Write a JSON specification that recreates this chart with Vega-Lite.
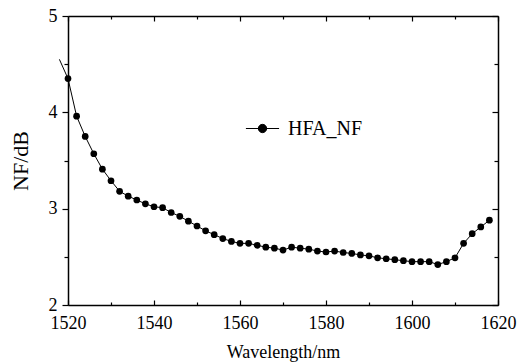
{
  "$schema": "https://vega.github.io/schema/vega-lite/v6.json",
  "width": 430,
  "height": 289,
  "autosize": "none",
  "padding": {"left": 68, "top": 16, "right": 20, "bottom": 59},
  "config": {
    "font": "Liberation Serif",
    "view": {"stroke": null},
    "axis": {
      "domainColor": "black",
      "domainWidth": 1.5,
      "tickColor": "black",
      "tickWidth": 1.2,
      "labelColor": "black",
      "titleColor": "black",
      "labelFont": "Liberation Serif",
      "titleFont": "Liberation Serif",
      "labelFontSize": 18,
      "titleFontSize": 18,
      "titleFontWeight": "normal",
      "grid": false
    }
  },
  "data": {
    "values": [
      {"wl": 1518, "nf": 4.55},
      {"wl": 1520, "nf": 4.35},
      {"wl": 1522, "nf": 3.96},
      {"wl": 1524, "nf": 3.75},
      {"wl": 1526, "nf": 3.57},
      {"wl": 1528, "nf": 3.41},
      {"wl": 1530, "nf": 3.29},
      {"wl": 1532, "nf": 3.18},
      {"wl": 1534, "nf": 3.13},
      {"wl": 1536, "nf": 3.09},
      {"wl": 1538, "nf": 3.05},
      {"wl": 1540, "nf": 3.02},
      {"wl": 1542, "nf": 3.01},
      {"wl": 1544, "nf": 2.96},
      {"wl": 1546, "nf": 2.92},
      {"wl": 1548, "nf": 2.87},
      {"wl": 1550, "nf": 2.82},
      {"wl": 1552, "nf": 2.77},
      {"wl": 1554, "nf": 2.73},
      {"wl": 1556, "nf": 2.69},
      {"wl": 1558, "nf": 2.66},
      {"wl": 1560, "nf": 2.64},
      {"wl": 1562, "nf": 2.64},
      {"wl": 1564, "nf": 2.62},
      {"wl": 1566, "nf": 2.6},
      {"wl": 1568, "nf": 2.59},
      {"wl": 1570, "nf": 2.57},
      {"wl": 1572, "nf": 2.6},
      {"wl": 1574, "nf": 2.59},
      {"wl": 1576, "nf": 2.58},
      {"wl": 1578, "nf": 2.56},
      {"wl": 1580, "nf": 2.55},
      {"wl": 1582, "nf": 2.56},
      {"wl": 1584, "nf": 2.545},
      {"wl": 1586, "nf": 2.535},
      {"wl": 1588, "nf": 2.52},
      {"wl": 1590, "nf": 2.51},
      {"wl": 1592, "nf": 2.49},
      {"wl": 1594, "nf": 2.48},
      {"wl": 1596, "nf": 2.47},
      {"wl": 1598, "nf": 2.46},
      {"wl": 1600, "nf": 2.45},
      {"wl": 1602, "nf": 2.45},
      {"wl": 1604, "nf": 2.45},
      {"wl": 1606, "nf": 2.42},
      {"wl": 1608, "nf": 2.45},
      {"wl": 1610, "nf": 2.49},
      {"wl": 1612, "nf": 2.64},
      {"wl": 1614, "nf": 2.74},
      {"wl": 1616, "nf": 2.81},
      {"wl": 1618, "nf": 2.88}
    ]
  },
  "layer": [
    {
      "mark": {"type": "line", "color": "black", "strokeWidth": 1},
      "encoding": {
        "x": {
          "field": "wl", "type": "quantitative",
          "scale": {"domain": [1520, 1620], "nice": false, "zero": false},
          "axis": {
            "orient": "bottom",
            "title": "Wavelength/nm",
            "values": [1520, 1530, 1540, 1550, 1560, 1570, 1580, 1590, 1600, 1610, 1620],
            "format": "d",
            "labelExpr": "datum.value % 20 === 0 ? datum.label : ''",
            "labelFont": "Liberation Serif",
            "titleFont": "Liberation Serif",
            "labelFontSize": 18,
            "titleFontSize": 18,
            "tickSize": {"condition": {"test": "datum.value % 20 === 0", "value": -5}, "value": -3},
            "labelPadding": 14,
            "labelFlush": false,
            "labelOverlap": false,
            "titlePadding": 9
          }
        },
        "y": {
          "field": "nf", "type": "quantitative",
          "scale": {"domain": [2, 5], "nice": false, "zero": false},
          "axis": {
            "orient": "left",
            "title": "NF/dB",
            "values": [2, 2.5, 3, 3.5, 4, 4.5, 5],
            "format": "~g",
            "labelExpr": "datum.value % 1 === 0 ? datum.label : ''",
            "labelFont": "Liberation Serif",
            "titleFont": "Liberation Serif",
            "labelFontSize": 18,
            "titleFontSize": 22,
            "tickSize": {"condition": {"test": "datum.value % 1 === 0", "value": 6}, "value": 4},
            "labelPadding": 5,
            "labelFlush": false,
            "labelOverlap": false,
            "titlePadding": 16
          }
        },
        "color": {"datum": "HFA_NF", "type": "nominal", "scale": {"range": ["black"]},
          "legend": {
            "title": null,
            "orient": "none",
            "legendX": 177,
            "legendY": 95,
            "symbolType": "M -1 0 L 1 0 M 0.25 0 A 0.25 0.25 0 1 1 -0.25 0 A 0.25 0.25 0 1 1 0.25 0 Z",
            "symbolSize": 1100,
            "symbolStrokeWidth": 1,
            "symbolFillColor": "black",
            "symbolStrokeColor": "black",
            "labelFontSize": 20,
            "labelFont": "Liberation Serif",
            "labelColor": "black",
            "labelOffset": 8,
            "padding": 0
          }
        }
      }
    },
    {
      "transform": [{"filter": "datum.wl >= 1520"}],
      "mark": {"type": "circle", "color": "black", "opacity": 1, "size": 45},
      "encoding": {
        "x": {
          "field": "wl", "type": "quantitative",
          "axis": {
            "orient": "top",
            "title": null,
            "values": [1520, 1530, 1540, 1550, 1560, 1570, 1580, 1590, 1600, 1610, 1620],
            "labels": false,
            "tickSize": {"condition": {"test": "datum.value % 20 === 0", "value": -5}, "value": -3}
          }
        },
        "y": {
          "field": "nf", "type": "quantitative",
          "axis": {
            "orient": "right",
            "title": null,
            "values": [2, 2.5, 3, 3.5, 4, 4.5, 5],
            "labels": false,
            "tickSize": {"condition": {"test": "datum.value % 1 === 0", "value": -6}, "value": -4}
          }
        }
      }
    }
  ]
}
